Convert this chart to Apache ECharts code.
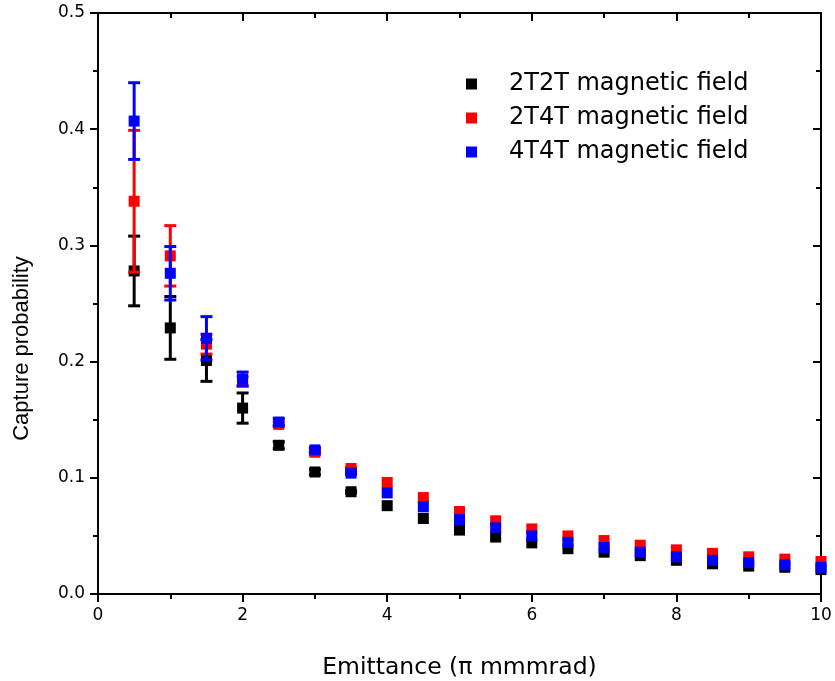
<!DOCTYPE html>
<html>
<head>
<meta charset="utf-8">
<script src="https://cdn.jsdelivr.net/npm/echarts@6/dist/echarts.min.js"></script>
<style>
html,body{margin:0;padding:0;background:#fff;}
#c{width:835px;height:681px;}
</style>
</head>
<body>
<div id="c"></div>
<script>
// Emittance (π mmmrad)
const emittance = [0.5,1,1.5,2,2.5,3,3.5,4,4.5,5,5.5,6,6.5,7,7.5,8,8.5,9,9.5,10];

// 2T2T magnetic field
const field2T2T = [0.278,0.229,0.201,0.160,0.128,0.105,0.088,0.076,0.065,0.055,0.049,0.044,0.039,0.036,0.033,0.029,0.026,0.024,0.023,0.021];
const err2T2T   = [0.030,0.027,0.018,0.013,0.003,0.002,0.001,0,0,0,0,0,0,0,0,0,0,0,0,0];

// 2T4T magnetic field
const field2T4T = [0.338,0.291,0.215,0.183,0.146,0.122,0.108,0.096,0.083,0.071,0.063,0.056,0.050,0.046,0.042,0.038,0.035,0.032,0.030,0.028];
const err2T4T   = [0.061,0.026,0.0085,0.004,0.002,0.002,0.001,0,0,0,0,0,0,0,0,0,0,0,0,0];

// 4T4T magnetic field
const field4T4T = [0.407,0.276,0.220,0.185,0.148,0.124,0.104,0.087,0.075,0.064,0.057,0.050,0.0445,0.040,0.036,0.032,0.029,0.027,0.025,0.023];
const err4T4T   = [0.033,0.023,0.0187,0.006,0.003,0.002,0.001,0,0,0,0,0,0,0,0,0,0,0,0,0];

const seriesNames = ['2T2T magnetic field','2T4T magnetic field','4T4T magnetic field'];
const seriesColors = ['#000000','#ff0000','#0000ff'];
const yTickLabels = ['0.0','0.1','0.2','0.3','0.4','0.5'];

const chart = echarts.init(document.getElementById('c'), null, {renderer:'canvas'});

function points(vals){ return emittance.map((x,i)=>[x, vals[i]]); }
function errs(vals, e){ return emittance.map((x,i)=>[x, vals[i]-e[i], vals[i]+e[i], e[i]]); }

function errorRender(color){
  return function(params, api){
    if (api.value(3) <= 0) return null;
    const x = api.value(0);
    const lo = api.coord([x, api.value(1)]);
    const hi = api.coord([x, api.value(2)]);
    const hw = 6;
    const st = {stroke: color, lineWidth: 3};
    return {
      type:'group',
      children:[
        {type:'line', shape:{x1:hi[0], y1:hi[1], x2:lo[0], y2:lo[1]}, style:st},
        {type:'line', shape:{x1:hi[0]-hw, y1:hi[1], x2:hi[0]+hw, y2:hi[1]}, style:st},
        {type:'line', shape:{x1:lo[0]-hw, y1:lo[1], x2:lo[0]+hw, y2:lo[1]}, style:st}
      ]
    };
  };
}

const allVals = [field2T2T, field2T4T, field4T4T];
const allErrs = [err2T2T, err2T4T, err4T4T];
const series = [];
allVals.forEach((v, k)=>{
  series.push({
    type:'custom', name: seriesNames[k] + ' err',
    renderItem: errorRender(seriesColors[k]),
    data: errs(v, allErrs[k]),
    z: 2 + 2*k, silent:true,
    encode:{x:0, y:[1,2]}
  });
  series.push({
    type:'scatter', name: seriesNames[k],
    symbol:'rect', symbolSize:11,
    itemStyle:{color: seriesColors[k], opacity:1},
    data: points(v),
    z: 3 + 2*k
  });
});

const axisLineStyle = {color:'#000', width:2};
const option = {
  backgroundColor:'#fff',
  animation:false,
  grid:{left:98, right:14, top:13, bottom:87, containLabel:false, outerBoundsMode:'none'},
  legend:{
    orient:'vertical',
    left:461, top:67,
    data: seriesNames,
    icon:'rect',
    itemWidth:11, itemHeight:11,
    itemGap:10,
    textStyle:{fontFamily:'DejaVu Sans', fontSize:24, color:'#000', padding:[0,0,0,27], lineHeight:24}
  },
  xAxis:[
    {
      type:'value', min:0, max:10, interval:2, position:'bottom',
      name:'Emittance (\u03c0 mmmrad)', nameLocation:'middle', nameGap:62,
      nameTextStyle:{fontFamily:'DejaVu Sans', fontSize:23.5, color:'#000'},
      axisLine:{show:true, onZero:false, lineStyle:axisLineStyle},
      axisTick:{show:true, inside:false, length:8, lineStyle:{color:'#000', width:2}},
      minorTick:{show:true, splitNumber:2, length:5, lineStyle:{color:'#000', width:2}},
      axisLabel:{fontFamily:'DejaVu Sans', fontSize:17, color:'#000', margin:13},
      splitLine:{show:false}
    },
    {
      type:'value', min:0, max:10, interval:2, position:'top',
      axisLine:{show:true, onZero:false, lineStyle:axisLineStyle},
      axisTick:{show:true, inside:true, length:8, lineStyle:{color:'#000', width:2}},
      minorTick:{show:true, splitNumber:2, length:5, lineStyle:{color:'#000', width:2}},
      axisLabel:{show:false},
      splitLine:{show:false}
    }
  ],
  yAxis:[
    {
      type:'value', min:0, max:0.5, interval:0.1, position:'left',
      name:'Capture probability', nameLocation:'middle', nameGap:65,
      nameTextStyle:{fontFamily:'Liberation Sans', fontSize:22, color:'#000', padding:[0,90,0,0]},
      axisLine:{show:true, onZero:false, lineStyle:axisLineStyle},
      axisTick:{show:true, inside:false, length:8, lineStyle:{color:'#000', width:2}},
      minorTick:{show:true, splitNumber:2, length:5, lineStyle:{color:'#000', width:2}},
      axisLabel:{fontFamily:'DejaVu Sans', fontSize:17, color:'#000', margin:13,
        formatter:function(v){ return yTickLabels[Math.round(v*10)]; }},
      splitLine:{show:false}
    },
    {
      type:'value', min:0, max:0.5, interval:0.1, position:'right',
      axisLine:{show:true, onZero:false, lineStyle:axisLineStyle},
      axisTick:{show:true, inside:true, length:8, lineStyle:{color:'#000', width:2}},
      minorTick:{show:true, splitNumber:2, length:5, lineStyle:{color:'#000', width:2}},
      axisLabel:{show:false},
      splitLine:{show:false}
    }
  ],
  series: series
};
chart.setOption(option);
</script>
</body>
</html>
